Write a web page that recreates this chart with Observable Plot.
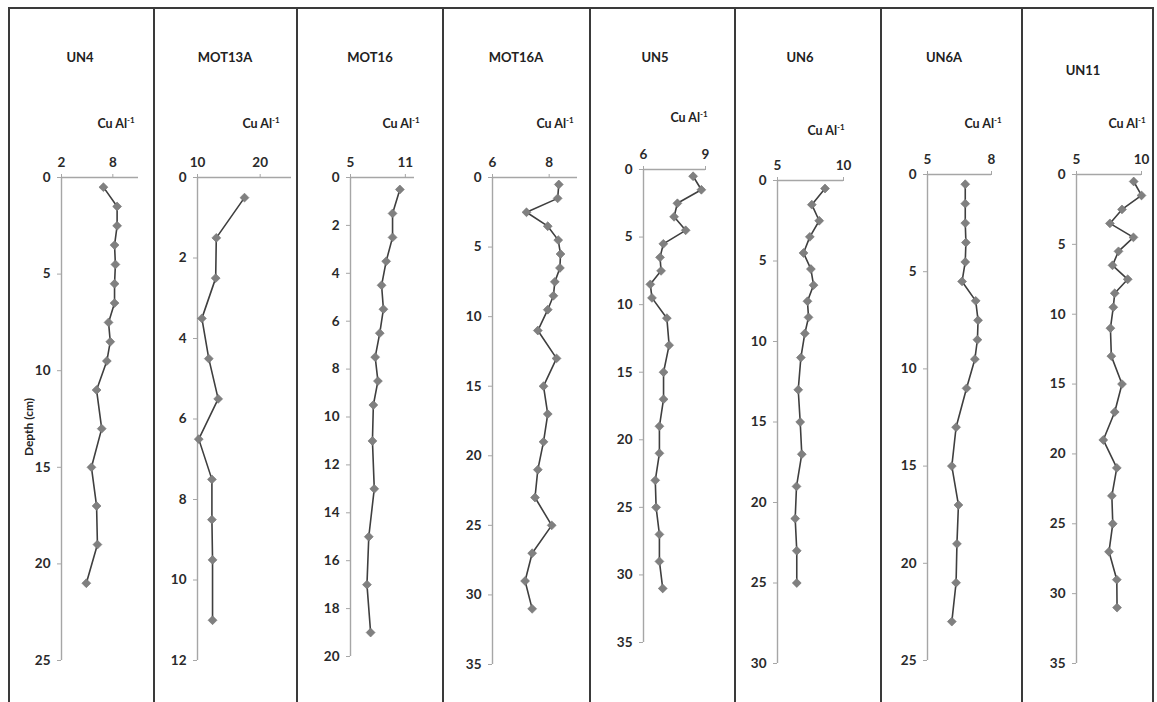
<!DOCTYPE html>
<html><head><meta charset="utf-8">
<script src="https://cdn.jsdelivr.net/npm/d3@7"></script>
<script src="https://cdn.jsdelivr.net/npm/@observablehq/plot@0.6"></script>
<style>
html,body{margin:0;padding:0;background:#fff;}
#chart{position:relative;width:1157px;height:702px;overflow:hidden;font-family:Lato,"Open Sans",sans-serif;font-weight:bold;color:#222;}
.border{position:absolute;background:#3a3a3a;}
.title{position:absolute;font-size:13px;transform:translate(-50%,-50%);white-space:nowrap;}
.unit{position:absolute;font-size:12.5px;transform:translate(-50%,-50%);white-space:nowrap;}
.unit sup{font-size:8px;vertical-align:5px;}
.ylab{position:absolute;font-size:12px;transform:translate(-50%,-50%) rotate(-90deg);white-space:nowrap;}
.panel{position:absolute;}
</style></head><body><div id="chart"></div><script>
// ---- data ----
const cores = ["UN4","MOT13A","MOT16","MOT16A","UN5","UN6","UN6A","UN11"];
const unitLabel = "Cu Al";
const unitSup = "-1";
const depthLabel = "Depth (cm)";

const depthUN4 = [0.5,1.5,2.5,3.5,4.5,5.5,6.5,7.5,8.5,9.5,11,13,15,17,19,21];
const cuUN4 = [6.9,8.5,8.5,8.2,8.3,8.2,8.2,7.5,7.7,7.3,6.1,6.7,5.5,6.1,6.2,4.9];
const depthMOT13A = [0.5,1.5,2.5,3.5,4.5,5.5,6.5,7.5,8.5,9.5,11];
const cuMOT13A = [17.5,13.0,12.9,10.7,11.8,13.3,10.2,12.3,12.3,12.4,12.4];
const depthMOT16 = [0.5,1.5,2.5,3.5,4.5,5.5,6.5,7.5,8.5,9.5,11,13,15,17,19];
const cuMOT16 = [10.4,9.6,9.6,8.9,8.4,8.6,8.2,7.7,8.0,7.5,7.4,7.6,7.0,6.8,7.2];
const depthMOT16A = [0.5,1.5,2.5,3.5,4.5,5.5,6.5,7.5,8.5,9.5,11,13,15,17,19,21,23,25,27,29,31];
const cuMOT16A = [8.34,8.3,7.2,7.95,8.32,8.4,8.38,8.2,8.15,7.95,7.6,8.26,7.8,7.95,7.8,7.6,7.5,8.09,7.4,7.15,7.4];
const depthUN5 = [0.5,1.5,2.5,3.5,4.5,5.5,6.5,7.5,8.5,9.5,11,13,15,17,19,21,23,25,27,29,31];
const cuUN5 = [8.4,8.8,7.64,7.48,8.04,6.96,6.8,6.85,6.33,6.41,7.13,7.24,6.97,6.97,6.77,6.77,6.57,6.61,6.77,6.77,6.93];
const depthUN6 = [0.5,1.5,2.5,3.5,4.5,5.5,6.5,7.5,8.5,9.5,11,13,15,17,19,21,23,25];
const cuUN6 = [8.6,7.6,8.16,7.45,6.97,7.53,7.73,7.27,7.35,7.07,6.77,6.57,6.72,6.84,6.44,6.34,6.46,6.46];
const depthUN6A = [0.5,1.5,2.5,3.5,4.5,5.5,6.5,7.5,8.5,9.5,11,13,15,17,19,21,23];
const cuUN6A = [6.77,6.77,6.77,6.8,6.77,6.62,7.26,7.37,7.34,7.22,6.83,6.34,6.14,6.45,6.38,6.34,6.14];
const depthUN11 = [0.5,1.5,2.5,3.5,4.5,5.5,6.5,7.5,8.5,9.5,11,13,15,17,19,21,23,25,27,29,31];
const cuUN11 = [9.4,10.0,8.5,7.57,9.38,8.23,7.77,8.94,7.94,7.83,7.61,7.68,8.5,7.94,7.06,8.1,7.72,7.79,7.5,8.1,8.12];

const xDomainUN4 = [2,11], xTicksUN4 = [2,8];
const xDomainMOT13A = [10,25], xTicksMOT13A = [10,20];
const xDomainMOT16 = [5,12], xTicksMOT16 = [5,11];
const xDomainMOT16A = [6,9], xTicksMOT16A = [6,8];
const xDomainUN5 = [6,9], xTicksUN5 = [6,9];
const xDomainUN6 = [5,10], xTicksUN6 = [5,10];
const xDomainUN6A = [5,8], xTicksUN6A = [5,8];
const xDomainUN11 = [5,10], xTicksUN11 = [5,10];

const yTicksUN4 = [0,5,10,15,20,25];
const yTicksMOT13A = [0,2,4,6,8,10,12];
const yTicksMOT16 = [0,2,4,6,8,10,12,14,16,18,20];
const yTicksMOT16A = [0,5,10,15,20,25,30,35];
const yTicksUN5 = [0,5,10,15,20,25,30,35];
const yTicksUN6 = [0,5,10,15,20,25,30];
const yTicksUN6A = [0,5,10,15,20,25];
const yTicksUN11 = [0,5,10,15,20,25,30,35];

const depths = [depthUN4,depthMOT13A,depthMOT16,depthMOT16A,depthUN5,depthUN6,depthUN6A,depthUN11];
const values = [cuUN4,cuMOT13A,cuMOT16,cuMOT16A,cuUN5,cuUN6,cuUN6A,cuUN11];
const xDomains = [xDomainUN4,xDomainMOT13A,xDomainMOT16,xDomainMOT16A,xDomainUN5,xDomainUN6,xDomainUN6A,xDomainUN11];
const xTicks = [xTicksUN4,xTicksMOT13A,xTicksMOT16,xTicksMOT16A,xTicksUN5,xTicksUN6,xTicksUN6A,xTicksUN11];
const yTicks = [yTicksUN4,yTicksMOT13A,yTicksMOT16,yTicksMOT16A,yTicksUN5,yTicksUN6,yTicksUN6A,yTicksUN11];

// ---- layout (pixel geometry of each panel) ----
const panelEdges = [8,153,296,442,589,734,880,1021,1152];
const layout = [
  {x0:61,  x1:138,  y0:177, y1:660, tx:80,   ty:57, ux:116, uy:123},
  {x0:197, x1:291,  y0:177, y1:660, tx:225,  ty:57, ux:261, uy:123},
  {x0:350, x1:414,  y0:177, y1:656, tx:370,  ty:57, ux:401, uy:123},
  {x0:492, x1:577,  y0:177, y1:664, tx:516,  ty:57, ux:555, uy:123},
  {x0:643, x1:705,  y0:169, y1:642, tx:655,  ty:57, ux:689, uy:117},
  {x0:777, x1:843,  y0:180, y1:663, tx:800,  ty:57, ux:826, uy:130},
  {x0:927, x1:991,  y0:174, y1:660, tx:944,  ty:57, ux:983, uy:123},
  {x0:1076,x1:1141, y0:174, y1:663, tx:1083, ty:70, ux:1127,uy:123}
];
const svgTop = 130, svgBottom = 702;
const axisColor = "#a6a6a6", textColor = "#2a2a2a";

const chart = document.getElementById("chart");
function addDiv(cls, css, html) {
  const d = document.createElement("div");
  d.className = cls; Object.assign(d.style, css); d.innerHTML = html; chart.appendChild(d); return d;
}
// frame lines
addDiv("border", {left: panelEdges[0]+"px", top:"7px", width:(panelEdges.at(-1)-panelEdges[0]+2)+"px", height:"2px"}, "");
panelEdges.forEach(x => addDiv("border", {left:x+"px", top:"7px", width:"2px", height:"700px"}, ""));

const fmt = d => String(d);
cores.forEach((name, i) => {
  const L = layout[i];
  const left = panelEdges[i] + 2, right = panelEdges[i+1];
  const width = right - left, height = svgBottom - svgTop;
  const data = depths[i].map((d, j) => ({depth: d, cu: values[i][j]}));
  const dom = xDomains[i], yt = yTicks[i];
  const ymax = yt[yt.length-1];
  const svg = Plot.plot({
    width, height,
    marginLeft: L.x0 - left, marginRight: right - L.x1,
    marginTop: L.y0 - svgTop, marginBottom: svgBottom - L.y1,
    x: {domain: dom},
    y: {domain: [0, ymax], reverse: true},
    style: {fontFamily: "Lato, 'Open Sans', sans-serif", fontWeight: "bold", fontSize: "13.5px", background: "transparent", overflow: "visible"},
    marks: [
      Plot.ruleY([0], {x1: dom[0], x2: dom[1], stroke: axisColor, strokeWidth: 1.4}),
      Plot.ruleX([dom[0]], {y1: 0, y2: ymax, stroke: axisColor, strokeWidth: 1.4}),
      Plot.axisX({anchor: "top", ticks: xTicks[i], tickFormat: fmt, tickSize: 4, tickPadding: 7, stroke: axisColor, fill: textColor, label: null}),
      Plot.axisY({anchor: "left", ticks: yt, tickFormat: fmt, tickSize: 4, tickPadding: 7, stroke: axisColor, fill: textColor, label: null}),
      Plot.line(data, {x: "cu", y: "depth", stroke: "#3f3f3f", strokeWidth: 1.6}),
      Plot.dot(data, {x: "cu", y: "depth", symbol: "diamond2", r: 4, fill: "#808080", stroke: "#6e6e6e", strokeWidth: 0.6})
    ]
  });
  const wrap = addDiv("panel", {left: left+"px", top: svgTop+"px"}, "");
  wrap.appendChild(svg);
  addDiv("title", {left: L.tx+"px", top: L.ty+"px"}, name);
  addDiv("unit", {left: L.ux+"px", top: L.uy+"px"}, unitLabel + "<sup>" + unitSup + "</sup>");
});
addDiv("ylab", {left: "28px", top: "427px"}, depthLabel);
</script></body></html>
